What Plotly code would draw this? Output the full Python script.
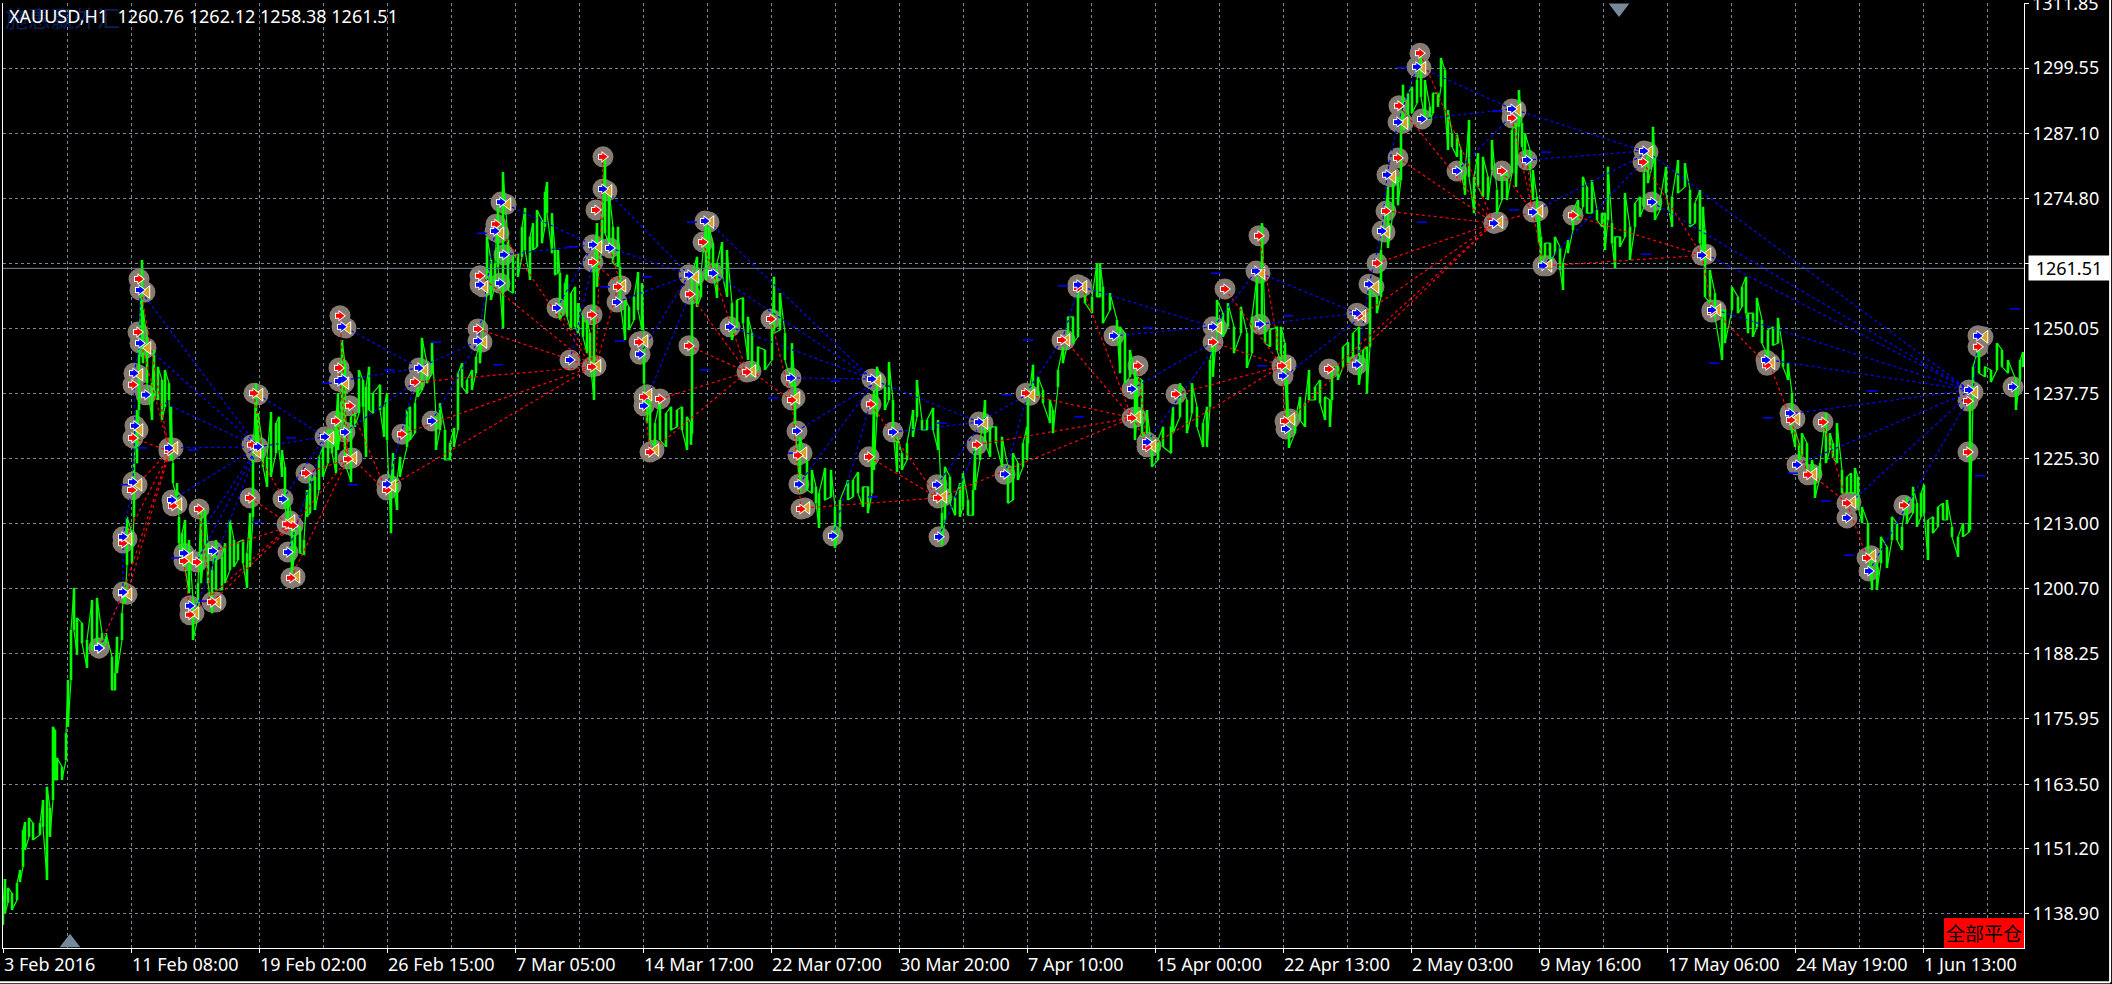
import plotly.graph_objects as go

# --- axis labels -----------------------------------------------------------
title_text = "XAUUSD,H1\u00a0\u00a01260.76 1262.12 1258.38 1261.51"
watermark_text = "施惠赢外汇"
button_text = "全部平仓"
last_price = 1261.51
y_ticks = [1311.85, 1299.55, 1287.10, 1274.80, 1262.35, 1250.05, 1237.75, 1225.30, 1213.00,
           1200.70, 1188.25, 1175.95, 1163.50, 1151.20, 1138.90]
y_labels = ["", "1299.55", "1287.10", "1274.80", "", "1250.05", "1237.75", "1225.30", "1213.00",
            "1200.70", "1188.25", "1175.95", "1163.50", "1151.20", "1138.90"]
top_label = "1311.85"
x_labels = ["3 Feb 2016", "11 Feb 08:00", "19 Feb 02:00", "26 Feb 15:00", "7 Mar 05:00", "14 Mar 17:00",
            "22 Mar 07:00", "30 Mar 20:00", "7 Apr 10:00", "15 Apr 00:00", "22 Apr 13:00", "2 May 03:00",
            "9 May 16:00", "17 May 06:00", "24 May 19:00", "1 Jun 13:00"]
x_label_bars = [3, 131, 259, 387, 515, 643, 771, 899, 1027, 1155, 1283, 1411, 1539, 1667, 1795, 1923]
shift_up_x = [70]; shift_up_p = [1133.4]
shift_dn_x = [1619]; shift_dn_p = [1311.0]

# --- price sticks: bar, high, low -----------------------------------------
bar_x = [3,5,8,12,17,20,23,25,29,33,40,43,47,50,53,55,57,62,66,68,71,74,77,82,87,92,97,102,106,112,115,117,122,125,
 127,132,134,137,139,142,143,147,152,154,158,162,165,169,171,173,177,179,182,185,189,193,198,201,205,208,212,216,222,225,230,234,238,243,247,
 250,253,256,258,263,267,271,276,279,282,285,288,292,295,300,304,307,310,315,319,323,328,332,336,338,342,345,351,355,359,363,366,369,373,380,384,387,391,393,397,400,407,410,415,418,422,427,432,436,440,445,450,454,458,
 462,467,472,476,480,487,491,495,498,503,508,513,518,522,525,530,533,537,542,545,547,552,555,558,560,565,567,571,575,578,583,587,590,594,597,602,605,609,613,618,620,625,629,634,638,642,644,647,650,655,660,666,671,677,682,687,691,692,697,701,706,709,713,717,722,727,732,737,743,748,752,758,765,772,774,780,785,792,795,
 800,807,812,816,819,825,831,835,840,848,853,858,863,868,872,874,877,885,889,893,897,902,907,913,917,922,927,933,938,942,945,950,955,960,963,968,973,975,980,985,990,996,1002,1008,1013,1018,1023,1027,1028,1033,1038,1043,1050,1053,1058,1063,1068,1073,1078,1085,1092,1097,1100,1103,1110,1117,1120,1125,1130,1135,1137,1142,1147,
 1152,1158,1163,1171,1173,1180,1187,1192,1197,1203,1207,1210,1213,1217,1223,1228,1234,1241,1247,1252,1257,1262,1265,1270,1277,1281,1285,1287,1289,1295,1300,1305,1309,1315,1320,1325,1330,1332,1338,1343,1348,1353,1359,1363,1367,1370,1377,1381,1388,1393,1398,1401,1403,1408,1412,1417,1421,1425,1430,1433,1438,1441,1445,1448,1452,1457,1461,1465,1469,1474,1478,1483,1488,1492,1497,1502,1507,1512,1516,1519,1522,1525,1530,1533,1537,1539,1541,1545,1550,1555,1560,1563,1568,1573,1578,1583,1587,1592,1597,1602,1605,1608,1612,1615,1620,1625,1630,1635,1640,1644,1648,1653,1655,1660,1666,1672,1678,1685,1690,1695,1700,1703,1705,
 1710,1715,1722,1725,1732,1738,1742,1746,1748,1753,1757,1762,1768,1773,1778,1783,1788,1792,1795,1799,1802,1807,1812,1815,1820,1826,1830,1833,1837,1842,1847,1851,1855,1858,1862,1868,1872,1877,1881,1887,1892,1897,1902,1907,1913,1917,1921,1924,1928,1933,1938,1943,1947,1952,1958,1963,1969,1970,1973,1979,1985,1991,1997,2002,2008,2016,2020,2023]
bar_high = [1140.5,1145.5,1143.8,1142.8,1144.7,1147.2,1154.8,1156.3,1157.1,1156.1,1156.1,1160.5,1163.0,1159.0,1174.4,1173.8,1168.5,1166.8,1173.2,1183.3,1192.8,1200.8,1195.1,1194.1,1190.9,1198.5,1198.9,1192.2,1192.2,1187.7,1184.6,1191.5,1196.0,1201.7,
 1214.3,1211.2,1224.5,1234.6,1246.0,1263.1,1253.6,1248.5,1239.7,1246.0,1242.8,1240.3,1242.2,1239.7,1235.2,1224.5,1220.7,1214.3,1211.2,1213.7,1209.9,1198.5,1201.7,1216.2,1215.6,1209.3,1204.2,1209.9,1206.7,1209.3,1213.7,1209.9,1209.5,1209.9,1207.4,
 1215.0,1225.7,1239.7,1234.0,1227.6,1225.7,1234.2,1232.1,1233.3,1227.0,1223.8,1218.1,1214.3,1212.4,1212.4,1209.9,1219.4,1221.9,1221.9,1225.7,1227.6,1230.8,1230.8,1233.3,1237.8,1247.9,1243.5,1233.3,1234.0,1242.2,1240.3,1239.0,1242.8,1237.8,1239.4,1235.2,1237.8,1220.7,1226.4,1221.3,1225.7,1234.6,1235.2,1235.9,1239.0,1248.3,1243.5,1247.3,1233.3,1235.9,1230.8,1228.3,1231.2,1241.6,
 1243.5,1240.3,1242.2,1244.7,1247.3,1267.5,1263.1,1262.5,1273.2,1279.8,1266.9,1263.7,1264.4,1269.4,1273.0,1267.5,1270.1,1272.6,1270.7,1276.0,1277.9,1272.0,1265.0,1265.0,1260.6,1258.7,1260.3,1256.8,1258.0,1254.9,1252.3,1251.7,1249.2,1262.5,1270.1,1270.7,1282.7,1276.4,1269.4,1269.4,1261.8,1255.5,1254.2,1256.1,1260.8,1258.7,1248.5,1236.5,1236.5,1232.1,1236.5,1234.0,1235.2,1234.6,1235.2,1233.3,1232.1,1260.6,1263.7,1260.6,1270.1,1269.4,1266.3,1262.5,1266.5,1265.0,1254.9,1255.5,1255.9,1252.3,1249.2,1246.6,1246.0,1249.8,1259.9,1256.8,1249.2,1247.3,1239.7,
 1229.5,1225.1,1223.2,1220.0,1218.8,1223.6,1223.2,1216.2,1217.5,1221.3,1221.3,1222.8,1220.0,1220.0,1225.7,1238.4,1242.8,1239.0,1243.7,1236.5,1229.5,1226.4,1228.3,1234.6,1240.3,1232.7,1232.7,1235.0,1232.7,1215.0,1223.8,1221.9,1218.1,1220.7,1222.6,1217.5,1219.4,1227.6,1228.3,1236.5,1231.4,1231.4,1229.5,1223.8,1226.4,1224.5,1228.3,1231.4,1236.5,1243.2,1240.9,1238.4,1236.5,1234.6,1242.2,1246.6,1252.3,1252.3,1258.0,1258.7,1256.1,1262.5,1262.5,1258.0,1256.8,1251.7,1250.4,1249.2,1246.0,1242.2,1240.9,1240.3,1234.6,
 1227.0,1228.9,1231.4,1231.4,1235.2,1239.7,1236.5,1239.7,1235.2,1232.1,1235.2,1244.1,1247.3,1255.5,1253.0,1254.9,1250.4,1254.2,1249.2,1252.3,1259.9,1270.1,1250.4,1249.8,1250.4,1250.4,1247.3,1240.3,1231.4,1232.7,1237.1,1235.9,1242.2,1239.0,1240.3,1237.1,1236.5,1242.8,1242.8,1246.6,1247.5,1249.2,1250.4,1246.0,1246.6,1257.4,1256.1,1265.0,1277.0,1277.7,1278.9,1287.2,1296.4,1294.8,1296.0,1297.3,1301.7,1297.3,1292.2,1294.8,1294.8,1301.5,1299.2,1291.6,1287.2,1286.9,1284.0,1279.6,1289.7,1278.9,1283.4,1282.7,1278.9,1285.9,1276.4,1278.9,1279.6,1287.8,1289.1,1295.4,1289.1,1287.2,1284.0,1280.2,1275.1,1271.3,1267.5,1266.3,1266.3,1267.5,1265.6,1262.5,1266.9,1272.6,1274.5,1278.9,1277.0,1278.3,1272.6,1272.0,1272.0,1280.8,1270.1,1267.5,1267.5,1275.8,1269.4,1273.9,1275.1,1279.6,1283.4,1288.4,1282.7,1274.5,1280.8,1275.1,1282.1,1281.5,1276.4,1273.9,1276.4,1273.2,1268.8,
 1261.2,1256.8,1253.6,1253.6,1258.0,1256.1,1258.0,1259.9,1253.0,1253.0,1255.9,1251.7,1249.8,1250.4,1252.1,1246.0,1243.5,1237.8,1230.8,1228.3,1230.2,1228.3,1225.1,1223.2,1224.5,1234.0,1230.2,1228.3,1232.1,1223.2,1221.9,1222.6,1223.6,1221.9,1216.2,1213.1,1208.0,1205.5,1210.5,1208.6,1214.3,1213.1,1212.4,1218.1,1220.0,1216.9,1218.8,1220.4,1213.7,1214.3,1216.2,1216.9,1217.5,1212.4,1210.5,1213.1,1213.1,1236.5,1242.8,1246.6,1242.8,1242.2,1247.3,1246.0,1244.1,1240.3,1244.1,1245.6]
bar_low = [1136.8,1139.0,1141.0,1139.6,1141.5,1144.9,1147.8,1151.0,1153.5,1152.9,1153.9,1155.4,1145.3,1153.5,1160.5,1164.3,1164.3,1164.3,1168.1,1174.4,1183.3,1192.8,1188.1,1190.3,1185.6,1189.0,1190.3,1189.0,1190.3,1181.4,1181.4,1184.6,1190.9,1197.9,
 1205.2,1205.5,1214.3,1224.5,1234.6,1246.0,1243.5,1239.7,1232.7,1237.1,1236.5,1232.7,1235.2,1236.5,1225.1,1220.7,1217.5,1209.3,1205.5,1204.8,1199.8,1190.9,1195.3,1201.7,1208.0,1201.7,1196.0,1200.4,1200.4,1201.7,1204.2,1204.8,1206.1,1205.5,1200.8,
 1204.8,1214.3,1225.7,1227.0,1223.8,1220.0,1221.9,1226.4,1227.0,1221.9,1216.2,1212.4,1203.6,1207.4,1207.4,1207.1,1214.3,1215.0,1215.6,1219.4,1221.9,1224.5,1226.4,1222.6,1227.0,1232.1,1224.5,1220.9,1231.4,1234.0,1235.2,1225.7,1234.6,1234.0,1234.6,1229.5,1228.9,1211.2,1220.7,1215.6,1221.9,1227.6,1228.9,1230.2,1237.1,1238.4,1239.7,1241.6,1227.0,1230.8,1225.1,1225.1,1227.6,1230.8,
 1239.0,1237.8,1238.4,1241.6,1243.5,1256.8,1255.5,1258.0,1261.8,1250.2,1257.4,1256.8,1259.9,1263.7,1265.0,1259.3,1265.0,1265.6,1266.3,1269.4,1272.0,1264.4,1260.3,1260.6,1251.7,1254.2,1252.3,1249.8,1250.4,1249.2,1248.5,1245.4,1244.1,1236.5,1258.0,1266.3,1268.2,1266.3,1262.5,1261.8,1255.5,1247.9,1249.8,1251.7,1253.6,1249.8,1239.7,1232.1,1228.9,1227.6,1228.9,1227.6,1230.8,1231.4,1230.8,1227.0,1228.0,1230.2,1254.2,1256.1,1259.3,1262.5,1260.6,1255.9,1260.6,1256.1,1247.9,1250.4,1251.1,1244.1,1240.9,1242.2,1242.2,1244.1,1249.2,1249.8,1244.1,1239.0,1232.1,
 1218.8,1219.4,1218.8,1216.9,1212.2,1217.5,1218.1,1208.4,1212.4,1217.5,1218.1,1218.8,1216.2,1215.0,1218.8,1223.2,1233.3,1234.6,1236.5,1230.8,1222.8,1223.2,1225.1,1229.5,1233.3,1230.8,1230.8,1230.8,1227.0,1208.9,1213.7,1216.9,1214.6,1214.3,1216.2,1214.6,1214.6,1219.4,1225.1,1228.3,1225.7,1228.3,1223.8,1216.9,1217.5,1221.3,1223.8,1225.1,1228.3,1237.1,1237.1,1235.9,1232.1,1230.2,1239.0,1243.5,1247.3,1247.3,1248.5,1254.9,1253.0,1256.1,1256.1,1251.1,1253.6,1249.8,1241.6,1239.7,1240.9,1228.9,1233.3,1229.5,1230.2,
 1223.8,1225.1,1227.6,1226.4,1230.2,1233.3,1230.2,1234.0,1231.4,1227.6,1227.6,1235.2,1240.9,1249.2,1248.5,1250.4,1245.4,1249.2,1242.6,1245.4,1252.3,1251.1,1247.3,1246.6,1246.0,1243.5,1240.3,1233.3,1227.4,1230.2,1232.7,1231.4,1236.5,1236.5,1235.9,1232.7,1231.4,1236.5,1240.3,1242.8,1243.5,1244.7,1239.4,1243.5,1237.8,1246.6,1253.0,1256.1,1265.4,1272.0,1273.5,1278.3,1287.8,1288.4,1291.0,1292.9,1294.1,1289.7,1289.7,1291.0,1292.2,1296.0,1291.6,1284.0,1284.6,1282.7,1280.2,1275.5,1278.9,1272.0,1277.0,1275.1,1274.5,1280.2,1272.0,1274.5,1274.5,1279.6,1277.0,1288.4,1284.6,1282.7,1280.2,1274.5,1271.3,1266.3,1262.5,1263.7,1262.5,1264.4,1261.2,1257.4,1264.4,1268.8,1270.7,1273.2,1272.0,1272.0,1270.7,1269.4,1265.0,1270.7,1266.3,1261.6,1265.6,1267.5,1263.1,1269.4,1271.3,1273.2,1277.7,1281.5,1270.7,1272.6,1275.8,1269.4,1275.8,1277.0,1269.4,1270.1,1266.3,1263.7,1256.1,
 1254.9,1252.3,1244.1,1247.3,1253.6,1253.0,1254.2,1253.0,1249.2,1248.5,1250.4,1247.3,1244.7,1246.9,1247.3,1242.8,1240.3,1230.2,1227.6,1225.1,1225.7,1223.2,1221.9,1217.9,1221.9,1224.5,1227.0,1225.5,1224.5,1218.8,1218.8,1218.8,1218.8,1216.2,1213.1,1208.0,1200.4,1200.4,1205.5,1204.6,1209.9,1209.9,1208.0,1213.1,1215.0,1212.4,1214.3,1215.0,1206.1,1211.2,1212.4,1213.7,1213.7,1210.5,1206.7,1210.5,1211.4,1211.8,1235.9,1241.6,1240.9,1239.9,1242.2,1242.8,1241.6,1234.6,1240.3,1242.8]

# --- trade markers: open buy, open sell, close ------------------------------
buy_x = [140,140,134,146,135,169,133,172,123,184,213,123,190,258,283,288,325,345,342,339,343,387,432,419,99,
 501,495,504,480,500,478,557,570,593,610,603,617,640,644,689,705,713,730,791,797,799,833,872,893,937,939,979,1005,1078,1114,1132,
 1147,1213,1256,1260,1283,1286,1357,1357,1369,1382,1387,1398,1417,1422,1457,1512,1527,1533,1494,1543,1644,1652,1702,1712,1766,1790,1797,1847,1869,1978,1969,2013]
buy_p = [1257.4,1247.3,1241.6,1237.5,1231.6,1227.4,1220.9,1217.5,1210.5,1207.4,1207.8,1200.0,1197.4,1227.6,1217.7,1207.6,1229.5,1230.4,1250.4,1240.1,1240.5,1220.5,1232.5,1242.6,1189.4,
 1274.1,1268.6,1264.1,1258.4,1258.7,1247.7,1254.0,1244.1,1266.0,1265.4,1276.6,1255.1,1245.2,1235.4,1260.3,1270.5,1260.6,1250.4,1240.7,1230.6,1220.5,1210.7,1240.5,1230.4,1220.4,1210.5,1232.3,1222.4,1258.4,1248.7,1238.6,
 1228.5,1250.4,1261.0,1250.9,1241.1,1231.0,1243.2,1253.0,1258.5,1268.6,1279.3,1289.3,1299.8,1289.9,1280.0,1291.8,1282.1,1272.2,1270.1,1262.0,1283.8,1274.1,1264.0,1253.6,1244.1,1234.0,1224.2,1214.1,1204.0,1248.7,1238.4,1239.0]
sell_x = [139,138,133,133,169,132,173,199,123,184,197,123,190,212,254,252,250,287,293,291,306,336,350,348,340,339,387,402,415,99,
 496,480,478,592,592,593,596,603,618,639,644,660,650,690,689,703,771,747,792,798,801,871,869,938,977,1026,1062,1078,1138,1132,
 1147,1176,1225,1213,1259,1282,1285,1329,1377,1359,1386,1398,1399,1420,1502,1512,1494,1573,1643,1712,1767,1791,1823,1808,1847,1904,1867,1978,1968,1968]
sell_p = [1259.5,1249.4,1239.4,1229.3,1226.8,1219.4,1216.4,1215.8,1209.3,1205.9,1205.7,1199.8,1195.7,1198.1,1237.8,1228.0,1217.9,1212.9,1212.6,1202.7,1222.6,1232.5,1235.4,1225.3,1252.5,1242.6,1219.4,1230.0,1239.9,1189.4,
 1269.9,1260.1,1250.0,1242.8,1252.7,1262.7,1272.6,1282.7,1258.0,1247.5,1237.1,1236.7,1226.6,1256.6,1246.8,1266.5,1251.9,1241.8,1236.5,1226.0,1215.8,1235.7,1225.7,1217.9,1228.0,1237.8,1247.9,1257.8,1243.0,1233.1,
 1227.6,1237.6,1257.6,1247.5,1267.7,1243.0,1232.5,1242.4,1262.5,1252.5,1272.4,1282.5,1292.4,1302.4,1280.0,1290.1,1270.1,1271.6,1281.7,1253.2,1243.1,1232.7,1232.3,1222.3,1216.9,1216.5,1206.5,1246.6,1236.3,1226.6]
close_x = [145,146,138,138,173,137,177,127,188,127,194,216,258,256,290,295,329,352,346,344,391,423,
 506,499,483,482,596,597,607,621,643,647,654,694,709,751,795,802,805,876,942,983,1030,1065,1082,1136,
 1151,1217,1260,1286,1290,1361,1374,1385,1391,1403,1421,1516,1538,1498,1547,1648,1706,1716,1770,1795,1812,1851,1871,1983,1973]
close_p = [1257.0,1246.4,1241.3,1230.8,1227.4,1220.4,1216.7,1210.1,1206.5,1199.6,1196.0,1198.1,1237.5,1226.6,1213.5,1202.9,1229.3,1225.5,1250.2,1239.7,1220.2,1242.2,
 1273.7,1268.2,1258.0,1247.5,1243.0,1265.6,1276.2,1258.2,1247.7,1237.5,1227.0,1259.9,1270.3,1242.0,1236.9,1226.4,1216.0,1240.1,1218.1,1232.1,1237.4,1247.9,1258.0,1233.3,
 1227.8,1250.2,1260.6,1243.2,1232.9,1252.5,1258.0,1268.4,1278.9,1289.1,1299.6,1291.6,1272.4,1270.3,1262.0,1283.6,1264.2,1253.6,1243.5,1232.9,1222.4,1217.1,1206.9,1248.5,1238.0]
level_x = [142,193,126,353,176,257,203,327,389,436,291,482,498,572,605,620,647,692,705,773,793,835,873,942,1007,1028,1063,1079,1216,1148,1262,1288,1422,1402,1497,1514,1546,1646,1714,1768,1793,1826,1849,1872,1980,2015]
level_p = [1227.4,1227.0,1220.4,1220.4,1206.5,1213.3,1198.3,1239.7,1242.2,1247.5,1229.3,1268.2,1243.2,1265.6,1258.0,1247.7,1259.9,1270.3,1242.2,1236.9,1226.4,1240.1,1218.1,1232.1,1237.5,1247.9,1258.2,1233.3,1260.6,1250.2,1243.0,1252.5,1270.3,1299.6,1291.4,1272.6,1283.6,1264.2,1243.5,1233.1,1222.6,1217.3,1207.0,1238.2,1222.1,1253.8]

# --- trade connectors -------------------------------------------------------
blue_x0 = [145,150,165,169,172,207,195,197,258,258,288,283,346,339,345,387,419,432,478,501,504,557,570,607,610,617,640,644,709,713,730,791,797,799,833,876,893,937,939,979,1005,1026,1062,1082,1114,1132,1147,1217,1260,1260,1286,1357,1369,1382,1387,1398,1421,1422,1457,1516,1527,1533,1543,1648,1652,1706,1716,1770,1795,1797,1851,1869,1973,123,123,133,135,134,140,100]
blue_p0 = [1256.1,1246.0,1235.9,1227.4,1217.5,1213.1,1205.2,1197.4,1237.5,1227.6,1207.6,1217.7,1250.2,1240.1,1230.4,1220.0,1242.6,1232.5,1247.7,1274.1,1264.1,1254.0,1244.1,1276.2,1265.4,1255.1,1245.2,1235.4,1270.3,1260.6,1250.4,1240.7,1230.6,1220.5,1210.7,1240.1,1230.4,1220.4,1210.5,1232.3,1222.4,1237.8,1247.9,1258.0,1248.7,1238.6,1228.5,1251.3,1260.6,1250.9,1241.2,1243.2,1258.5,1268.6,1279.3,1289.3,1299.6,1289.9,1280.0,1291.6,1282.1,1272.2,1262.0,1283.6,1274.1,1264.2,1253.6,1244.1,1234.0,1224.2,1217.1,1204.0,1238.0,1200.0,1210.5,1220.9,1231.6,1241.6,1247.3,1189.4]
blue_x1 = [258,258,258,258,258,258,258,258,325,325,325,325,419,419,415,415,478,478,495,593,593,593,593,689,689,690,689,690,872,872,872,872,872,872,871,979,979,977,977,1026,1026,1062,1078,1213,1213,1213,1213,1256,1357,1357,1357,1369,1382,1387,1398,1417,1512,1512,1512,1644,1644,1644,1644,1969,1969,1969,1969,1969,1969,1969,1968,1968,1978,123,133,135,134,140,140,123]
blue_p1 = [1227.6,1227.6,1227.6,1227.6,1227.6,1227.6,1227.6,1227.6,1229.5,1229.5,1229.5,1229.5,1242.6,1242.6,1239.9,1239.9,1247.7,1247.7,1268.6,1266.0,1266.0,1266.0,1262.7,1260.3,1260.3,1260.3,1260.3,1256.6,1240.5,1240.5,1240.5,1240.5,1239.4,1239.4,1236.5,1232.3,1232.3,1230.8,1228.0,1237.4,1236.5,1247.9,1257.4,1250.4,1250.4,1247.5,1246.0,1261.0,1253.0,1253.0,1251.7,1258.5,1268.6,1279.3,1289.3,1299.8,1291.8,1291.8,1290.6,1283.8,1283.8,1283.1,1282.1,1238.4,1238.4,1238.4,1238.4,1238.4,1238.4,1238.0,1237.4,1236.5,1248.7,1210.5,1220.9,1231.6,1241.6,1247.3,1257.4,1200.0]
red_x0 = [139,138,133,123,123,132,127,99,184,199,212,190,213,250,254,256,291,293,306,340,336,339,350,352,391,402,415,478,496,480,557,618,592,603,610,593,644,660,650,689,690,703,771,751,792,805,869,871,977,942,1030,1065,1082,1138,1133,1151,1176,1213,1225,1259,1282,1290,1333,1361,1377,1386,1398,1399,1420,1494,1502,1512,1527,1533,1547,1573,1643,1702,1716,1770,1791,1812,1823,1847]
red_p0 = [1259.5,1249.4,1229.3,1199.8,1209.3,1219.4,1199.6,1189.4,1205.9,1215.8,1198.1,1195.7,1207.8,1217.9,1237.8,1226.6,1202.7,1212.6,1222.6,1252.5,1232.5,1242.6,1235.4,1225.5,1220.2,1230.0,1239.9,1250.0,1269.9,1260.1,1254.0,1258.0,1252.7,1282.7,1265.4,1262.7,1237.1,1236.7,1226.6,1246.8,1256.6,1266.5,1251.9,1242.0,1236.5,1216.0,1225.7,1235.7,1228.0,1218.1,1237.4,1247.9,1258.0,1243.0,1233.3,1227.8,1237.6,1247.5,1257.6,1267.7,1243.0,1232.9,1242.4,1252.5,1262.5,1272.4,1282.5,1292.4,1302.4,1270.1,1280.0,1290.1,1282.1,1272.2,1262.0,1271.6,1281.7,1264.0,1253.2,1243.1,1232.7,1222.3,1232.3,1216.9]
red_x1 = [169,168,169,168,168,168,168,123,190,212,292,290,292,292,262,285,348,348,348,348,348,348,387,387,592,592,592,592,592,592,592,596,592,596,621,621,650,747,747,747,747,747,791,791,801,938,938,938,1132,1132,1132,1132,1132,1147,1147,1282,1282,1282,1282,1282,1285,1494,1494,1494,1494,1494,1494,1494,1494,1533,1533,1533,1533,1543,1702,1702,1702,1712,1767,1791,1808,1847,1847,1867]
red_p1 = [1226.8,1227.9,1226.8,1226.0,1226.0,1226.6,1225.5,1199.8,1195.7,1198.1,1212.6,1212.6,1212.6,1212.6,1227.0,1217.5,1225.3,1225.3,1225.3,1225.3,1225.3,1225.3,1219.0,1219.0,1242.8,1242.8,1242.8,1242.8,1242.8,1242.8,1244.1,1243.0,1242.8,1243.0,1258.2,1258.2,1226.6,1241.8,1241.8,1241.8,1241.8,1241.8,1236.5,1236.5,1215.8,1217.9,1217.9,1217.9,1233.1,1233.1,1233.1,1233.1,1233.1,1227.6,1227.6,1243.0,1243.0,1243.0,1243.0,1243.0,1232.5,1270.1,1270.1,1270.1,1270.1,1270.1,1270.1,1270.1,1270.1,1272.2,1272.2,1272.2,1272.2,1262.0,1264.0,1264.0,1264.0,1253.6,1243.1,1232.7,1222.3,1216.9,1216.9,1206.5]


def zigzag(xs, highs, lows):
    px, py = [], []
    for i, (x, h, l) in enumerate(zip(xs, highs, lows)):
        px += [x, x]
        py += [l, h] if i % 2 == 0 else [h, l]
    return px, py


def sticks(xs, highs, lows):
    px, py = [], []
    for x, h, l in zip(xs, highs, lows):
        px += [x, x, None]
        py += [l, h, None]
    return px, py


def segments(x0, p0, x1, p1):
    px, py = [], []
    for a, b, c, d in zip(x0, p0, x1, p1):
        px += [a, c, None]
        py += [b, d, None]
    return px, py


GRID = "#778899"
FONT = "Noto Sans, sans-serif"
TXT = 18
CIRCLE = "#857B70"
fig = go.Figure()


def dots(xs, ys, **marker):
    fig.add_trace(go.Scatter(x=xs, y=ys, mode="markers", marker=marker, hoverinfo="skip"))


# halos under everything
dots(buy_x + sell_x + close_x, buy_p + sell_p + close_p, symbol="circle", size=21, color=CIRCLE, line=dict(width=0))
# price sticks: a thin connected line plus vertical bars, to fill the solid mass of 1-px bars
sx, sy = zigzag(bar_x, bar_high, bar_low)
fig.add_trace(go.Scatter(x=sx, y=sy, mode="lines", line=dict(color="#00FF00", width=1.2), hoverinfo="skip"))
tx, ty = sticks(bar_x, bar_high, bar_low)
fig.add_trace(go.Scatter(x=tx, y=ty, mode="lines", line=dict(color="#00FF00", width=2.6), hoverinfo="skip"))
# connectors
bx, by = segments(blue_x0, blue_p0, blue_x1, blue_p1)
fig.add_trace(go.Scatter(x=bx, y=by, mode="lines", line=dict(color="#0000FF", width=1.2, dash="3px,3px"), hoverinfo="skip"))
rx, ry = segments(red_x0, red_p0, red_x1, red_p1)
fig.add_trace(go.Scatter(x=rx, y=ry, mode="lines", line=dict(color="#FF0000", width=1.2, dash="3px,3px"), hoverinfo="skip"))
# level dashes
dots(level_x, level_p, symbol="line-ew", size=7, line=dict(color="#0000FF", width=1.5))
# close triangles
dots([x + 2 for x in close_x], close_p, symbol="triangle-left", size=11, color="#DAA520", line=dict(color="white", width=1))
# open arrows: white outline, then a block tail and a triangular head
for xs, ps, col in ((sell_x, sell_p, "#FF0000"), (buy_x, buy_p, "#0000FF")):
    tails = [x - 2 for x in xs]
    heads = [x + 1 for x in xs]
    dots(tails, ps, symbol="square", size=6, color="white", line=dict(width=0))
    dots(heads, ps, symbol="triangle-right", size=10, color="white", line=dict(width=0))
    dots(tails, ps, symbol="square", size=4, color=col, line=dict(width=0))
    dots(heads, ps, symbol="triangle-right", size=7, color=col, line=dict(width=0))
# shift triangles
for xs, ys, sym in ((shift_up_x, shift_up_p, "triangle-up"), (shift_dn_x, shift_dn_p, "triangle-down")):
    fig.add_trace(go.Scatter(x=xs, y=ys, mode="markers", cliponaxis=False,
                             marker=dict(symbol=sym, size=18, color=GRID, line=dict(width=0)), hoverinfo="skip"))

annotations = [dict(text=watermark_text, xref="paper", yref="paper", x=0.0, y=0.985, xanchor="left", yanchor="middle",
                    showarrow=False, font=dict(family="Noto Sans CJK SC", size=23, color="#0B1F55")),
               dict(text=title_text, xref="paper", yref="paper", x=0.002, y=0.986, xanchor="left", yanchor="middle",
                    showarrow=False, font=dict(family=FONT, size=TXT, color="white")),
               dict(text=top_label, xref="paper", yref="y", x=1.0035, y=y_ticks[0], xanchor="left", yanchor="middle",
                    showarrow=False, font=dict(family=FONT, size=TXT, color="white"), borderpad=0),
               dict(text="{:.2f}".format(last_price), xref="paper", yref="y", x=1.002, y=last_price, xanchor="left",
                    yanchor="middle", showarrow=False, bgcolor="white", width=78, height=22, align="center",
                    font=dict(family=FONT, size=TXT, color="black")),
               dict(text=button_text, xref="paper", yref="paper", x=0.98, y=0.0159, xanchor="center", yanchor="middle",
                    showarrow=False, font=dict(family="Noto Sans CJK SC", size=19, color="black"))]
for bar, lab in zip(x_label_bars, x_labels):
    annotations.append(dict(text=lab, xref="x", yref="paper", x=bar, y=-0.0169, xanchor="left", yanchor="middle",
                            showarrow=False, font=dict(family=FONT, size=TXT, color="white"), borderpad=0))

shapes = [dict(type="line", xref="paper", yref="y", x0=0, x1=1, y0=last_price, y1=last_price,
               line=dict(color=GRID, width=1), layer="above"),
          dict(type="rect", xref="paper", yref="paper", x0=0.9604, x1=1, y0=0, y1=0.0317,
               fillcolor="#FF0000", line=dict(width=0), layer="above"),
          dict(type="line", xref="paper", yref="paper", x0=-0.002, x1=1.0426, y0=-0.0362, y1=-0.0362,
               line=dict(color="white", width=2)),
          dict(type="line", xref="paper", yref="paper", x0=1.0426, x1=1.0426, y0=-0.0362, y1=1.004,
               line=dict(color="white", width=2))]

fig.update_layout(
    width=2112, height=984, autosize=False,
    margin=dict(l=3, r=88, t=3, b=36, pad=0),
    paper_bgcolor="black", plot_bgcolor="black", showlegend=False,
    annotations=annotations, shapes=shapes,
    xaxis=dict(range=[3, 2024], tick0=3, dtick=128, showgrid=True, gridcolor=GRID, griddash="3px,3px", gridwidth=1,
               minor=dict(tick0=67, dtick=128, showgrid=True, gridcolor=GRID, griddash="3px,3px", gridwidth=1, ticks=""),
               ticks="outside", ticklen=4, tickcolor="white", showticklabels=False,
               showline=True, linecolor="white", linewidth=1, zeroline=False),
    yaxis=dict(range=[1132.38, 1311.93], side="right", tickvals=y_ticks, ticktext=y_labels,
               showgrid=True, gridcolor=GRID, griddash="3px,3px", gridwidth=1,
               ticks="outside", ticklen=4, tickcolor="white",
               tickfont=dict(family=FONT, size=TXT, color="white"),
               showline=True, linecolor="white", linewidth=1, mirror=True, zeroline=False),
)

fig.write_html("out.html", config=dict(displayModeBar=False),
               post_script="document.body.style.margin='0';document.body.style.overflow='hidden';")
